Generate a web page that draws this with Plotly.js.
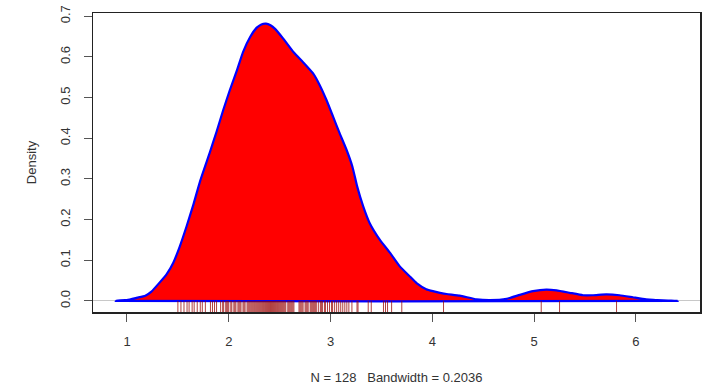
<!DOCTYPE html>
<html>
<head>
<meta charset="utf-8">
<script src="https://cdn.plot.ly/plotly-3.0.1.min.js"></script>
<style>html,body{margin:0;padding:0;background:#fff;}#chart{width:713px;height:386px;}</style>
</head>
<body>
<div id="chart"></div>
<script>
// Density estimate
var densX = [0.89, 1.00, 1.10, 1.18, 1.24, 1.32, 1.39, 1.455, 1.52, 1.585, 1.65, 1.72, 1.815, 1.88, 1.945, 2.01, 2.08, 2.14, 2.21, 2.275, 2.32, 2.365, 2.41, 2.455, 2.535, 2.635, 2.73, 2.83, 2.895, 2.96, 3.025, 3.09, 3.155, 3.215, 3.26, 3.32, 3.385, 3.485, 3.585, 3.68, 3.78, 3.845, 3.94, 4.005, 4.075, 4.14, 4.27, 4.435, 4.565, 4.73, 4.86, 4.99, 5.12, 5.22, 5.35, 5.48, 5.58, 5.71, 5.84, 5.97, 6.10, 6.27, 6.41];
var densY = [0.000, 0.002, 0.008, 0.013, 0.023, 0.045, 0.066, 0.094, 0.135, 0.183, 0.235, 0.296, 0.366, 0.416, 0.469, 0.518, 0.567, 0.612, 0.649, 0.672, 0.680, 0.682, 0.678, 0.669, 0.645, 0.612, 0.587, 0.559, 0.530, 0.494, 0.453, 0.412, 0.373, 0.330, 0.283, 0.233, 0.191, 0.150, 0.118, 0.085, 0.060, 0.044, 0.029, 0.024, 0.020, 0.017, 0.013, 0.004, 0.002, 0.005, 0.015, 0.024, 0.028, 0.026, 0.020, 0.014, 0.014, 0.016, 0.014, 0.009, 0.004, 0.001, 0.000];

// Observations (rug), N = 128
var rugValues = [
  1.50, 1.53, 1.56, 1.59, 1.61, 1.64, 1.66, 1.69, 1.72, 1.74, 1.77, 1.82, 1.84, 1.86, 1.88,
  1.92, 1.94, 1.95, 1.97, 1.98, 1.99, 2.00,
  2.02, 2.03, 2.05, 2.06, 2.07, 2.09, 2.10,
  2.11, 2.12, 2.14, 2.15, 2.16, 2.18, 2.19, 2.20,
  2.21, 2.22, 2.23, 2.24, 2.25, 2.26, 2.27, 2.28, 2.29, 2.30,
  2.31, 2.32, 2.33, 2.34, 2.35, 2.36, 2.37, 2.38, 2.39, 2.40,
  2.41, 2.42, 2.43, 2.44, 2.45, 2.46, 2.47, 2.48, 2.49, 2.50,
  2.51, 2.52, 2.53, 2.54, 2.55, 2.56, 2.58, 2.59, 2.60,
  2.61, 2.62, 2.63, 2.64, 2.69, 2.70,
  2.71, 2.72, 2.73, 2.75, 2.76, 2.77, 2.78, 2.80,
  2.81, 2.82, 2.83, 2.84, 2.85, 2.86, 2.88, 2.90,
  2.91, 2.92, 2.94, 2.95, 2.97, 2.99,
  3.01, 3.02, 3.04, 3.06, 3.08, 3.10,
  3.12, 3.14, 3.16, 3.18, 3.21,
  3.26, 3.27, 3.37, 3.40, 3.52, 3.54, 3.56, 3.60, 3.70, 4.11, 5.07, 5.25, 5.81
];

var xTicks = [1, 2, 3, 4, 5, 6];
var yTicks = [0, 0.1, 0.2, 0.3, 0.4, 0.5, 0.6, 0.7];
var yTickText = ['0.0', '0.1', '0.2', '0.3', '0.4', '0.5', '0.6', '0.7'];
var xLabel = 'N = 128   Bandwidth = 0.2036';
var yLabel = 'Density';

// closed polygon (border along baseline too)
var polyX = densX.concat([densX[0]]);
var polyY = densY.concat([densY[0]]);

var rugShapes = rugValues.map(function (v) {
  return {
    type: 'line', xref: 'x', yref: 'paper',
    x0: v, x1: v, y0: 0, y1: 0.037,
    line: {color: 'rgba(150,0,0,0.75)', width: 1}
  };
});

var font = {family: 'Liberation Sans, Arial, sans-serif', size: 13, color: '#333'};

var trace = {
  x: polyX, y: polyY, type: 'scatter', mode: 'lines',
  fill: 'toself', fillcolor: '#ff0000',
  line: {color: '#0000ff', width: 2.2, shape: 'spline', smoothing: 0.4},
  hoverinfo: 'skip'
};

var layout = {
  width: 713, height: 386,
  margin: {l: 93, r: 13, t: 13, b: 74},
  paper_bgcolor: '#fff', plot_bgcolor: '#fff',
  showlegend: false,
  font: font,
  xaxis: {
    range: [0.666, 6.63],
    tickvals: xTicks, ticktext: xTicks.map(String),
    ticks: 'outside', ticklen: 8, tickcolor: '#555', tickwidth: 1,
    ticklabelstandoff: 9,
    showgrid: false, zeroline: false,
    showline: true, linecolor: '#222', linewidth: 1.5, mirror: true,
    tickfont: font,
    title: {text: xLabel.replace(/ /g, '\u00a0'), font: font, standoff: 25}
  },
  yaxis: {
    range: [-0.0272, 0.708],
    tickvals: yTicks, ticktext: yTickText,
    ticks: 'outside', ticklen: 8, tickcolor: '#555', tickwidth: 1,
    ticklabelstandoff: 8,
    tickangle: -90,
    showgrid: false,
    zeroline: true, zerolinecolor: '#c8c8c8', zerolinewidth: 1,
    showline: true, linecolor: '#222', linewidth: 1.5, mirror: true,
    tickfont: font,
    title: {text: yLabel, font: font, standoff: 18}
  },
  shapes: rugShapes
};

Plotly.newPlot('chart', [trace], layout, {staticPlot: true, displayModeBar: false});
</script>
</body>
</html>
